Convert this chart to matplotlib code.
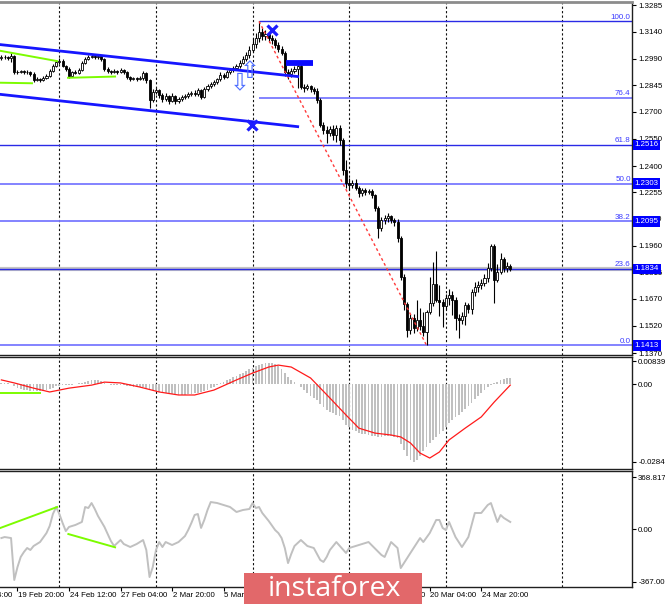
import matplotlib
matplotlib.use("Agg")
import matplotlib.pyplot as plt
from matplotlib.patches import Rectangle
import matplotlib.transforms as mtrans

plt.rcParams['font.family'] = ['Liberation Sans', 'DejaVu Sans']

# ---------------- data ----------------
OPEN = [1.2995, 1.3000, 1.3000, 1.2995, 1.3006, 1.2918, 1.2918, 1.2923, 1.2918, 1.2918,
        1.2907, 1.2874, 1.2879, 1.2874, 1.2885, 1.2896, 1.2923, 1.2951, 1.2973, 1.2978,
        1.2951, 1.2934, 1.2896, 1.2918, 1.2912, 1.2929, 1.2967, 1.2989, 1.3000, 1.3006,
        1.3000, 1.3006, 1.2989, 1.2934, 1.2923, 1.2918, 1.2923, 1.2918, 1.2929, 1.2918,
        1.2890, 1.2879, 1.2885, 1.2879, 1.2885, 1.2912, 1.2874, 1.2764, 1.2808, 1.2819,
        1.2791, 1.2769, 1.2786, 1.2758, 1.2786, 1.2758, 1.2769, 1.2780, 1.2786, 1.2797,
        1.2802, 1.2797, 1.2819, 1.2780, 1.2824, 1.2841, 1.2852, 1.2863, 1.2879, 1.2901,
        1.2890, 1.2918, 1.2929, 1.2940, 1.2951, 1.2967, 1.2989, 1.3011, 1.3039, 1.3072,
        1.3105, 1.3138, 1.3116, 1.3127, 1.3105, 1.3094, 1.3066, 1.3044, 1.3022, 1.2918,
        1.2907, 1.2923, 1.2934, 1.2951, 1.2835, 1.2830, 1.2841, 1.2824, 1.2813, 1.2764,
        1.2626, 1.2599, 1.2582, 1.2604, 1.2571, 1.2610, 1.2544, 1.2379, 1.2307, 1.2296,
        1.2307, 1.2280, 1.2252, 1.2269, 1.2258, 1.2263, 1.2241, 1.2170, 1.2060, 1.2104,
        1.2115, 1.2126, 1.2104, 1.2093, 1.2005, 1.1790, 1.1642, 1.1499, 1.1565, 1.1510,
        1.1554, 1.1521, 1.1488, 1.1598, 1.1647, 1.1752, 1.1664, 1.1653, 1.1631, 1.1675,
        1.1691, 1.1664, 1.1565, 1.1554, 1.1576, 1.1636, 1.1614, 1.1708, 1.1735, 1.1746,
        1.1757, 1.1785, 1.1840, 1.1961, 1.1774, 1.1818, 1.1889, 1.1840, 1.1851]
HIGH = [1.3011, 1.3011, 1.3006, 1.3022, 1.3011, 1.2929, 1.2929, 1.2929, 1.2929, 1.2923,
        1.2918, 1.2890, 1.2885, 1.2896, 1.2907, 1.2934, 1.2962, 1.2984, 1.2995, 1.2989,
        1.2956, 1.2945, 1.2923, 1.2929, 1.2940, 1.2978, 1.3000, 1.3011, 1.3017, 1.3017,
        1.3011, 1.3011, 1.2995, 1.2945, 1.2929, 1.2934, 1.2929, 1.2940, 1.2934, 1.2923,
        1.2896, 1.2890, 1.2890, 1.2896, 1.2923, 1.2918, 1.2879, 1.2824, 1.2830, 1.2824,
        1.2802, 1.2802, 1.2791, 1.2802, 1.2791, 1.2780, 1.2791, 1.2797, 1.2808, 1.2813,
        1.2819, 1.2830, 1.2824, 1.2835, 1.2852, 1.2863, 1.2874, 1.2885, 1.2918, 1.2912,
        1.2929, 1.2940, 1.2951, 1.2962, 1.2984, 1.3006, 1.3028, 1.3061, 1.3105, 1.3132,
        1.3198, 1.3160, 1.3149, 1.3138, 1.3121, 1.3105, 1.3083, 1.3061, 1.3033, 1.2934,
        1.2940, 1.2951, 1.2967, 1.2973, 1.2852, 1.2852, 1.2846, 1.2835, 1.2830, 1.2775,
        1.2643, 1.2621, 1.2621, 1.2626, 1.2626, 1.2626, 1.2555, 1.2434, 1.2335, 1.2324,
        1.2329, 1.2291, 1.2280, 1.2280, 1.2274, 1.2274, 1.2247, 1.2181, 1.2120, 1.2131,
        1.2142, 1.2131, 1.2115, 1.2109, 1.2016, 1.1807, 1.1653, 1.1587, 1.1587, 1.1664,
        1.1620, 1.1598, 1.1609, 1.1790, 1.1873, 1.1933, 1.1746, 1.1669, 1.1697, 1.1724,
        1.1713, 1.1680, 1.1587, 1.1598, 1.1653, 1.1647, 1.1724, 1.1763, 1.1768, 1.1779,
        1.1807, 1.1867, 1.1972, 1.1972, 1.1862, 1.1922, 1.1900, 1.1873, 1.1862]
LOW = [1.2984, 1.2989, 1.2984, 1.2973, 1.2907, 1.2907, 1.2912, 1.2907, 1.2907, 1.2896,
       1.2863, 1.2868, 1.2863, 1.2868, 1.2879, 1.2890, 1.2918, 1.2945, 1.2962, 1.2945,
       1.2923, 1.2885, 1.2890, 1.2907, 1.2907, 1.2923, 1.2962, 1.2984, 1.2995, 1.2989,
       1.2989, 1.2978, 1.2923, 1.2912, 1.2907, 1.2912, 1.2907, 1.2912, 1.2907, 1.2879,
       1.2868, 1.2874, 1.2868, 1.2874, 1.2874, 1.2857, 1.2720, 1.2753, 1.2797, 1.2775,
       1.2753, 1.2758, 1.2742, 1.2753, 1.2742, 1.2747, 1.2758, 1.2769, 1.2775, 1.2786,
       1.2786, 1.2786, 1.2769, 1.2775, 1.2813, 1.2830, 1.2841, 1.2852, 1.2868, 1.2879,
       1.2885, 1.2907, 1.2918, 1.2929, 1.2940, 1.2962, 1.2978, 1.2995, 1.3028, 1.3050,
       1.3083, 1.3094, 1.3094, 1.3083, 1.3072, 1.3050, 1.3028, 1.3011, 1.2896, 1.2879,
       1.2890, 1.2912, 1.2830, 1.2824, 1.2808, 1.2819, 1.2808, 1.2797, 1.2747, 1.2615,
       1.2577, 1.2527, 1.2566, 1.2544, 1.2533, 1.2516, 1.2351, 1.2280, 1.2269, 1.2280,
       1.2269, 1.2230, 1.2236, 1.2241, 1.2247, 1.2225, 1.2153, 1.2005, 1.2043, 1.2082,
       1.2093, 1.2087, 1.2071, 1.1983, 1.1774, 1.1609, 1.1460, 1.1477, 1.1482, 1.1493,
       1.1499, 1.1466, 1.1413, 1.1587, 1.1631, 1.1653, 1.1576, 1.1515, 1.1614, 1.1636,
       1.1581, 1.1499, 1.1455, 1.1532, 1.1526, 1.1592, 1.1587, 1.1686, 1.1708, 1.1724,
       1.1741, 1.1763, 1.1823, 1.1647, 1.1763, 1.1807, 1.1818, 1.1818, 1.1823]
CLOSE = [1.3000, 1.3000, 1.2995, 1.3006, 1.2918, 1.2918, 1.2923, 1.2918, 1.2918, 1.2907,
         1.2874, 1.2879, 1.2874, 1.2885, 1.2896, 1.2923, 1.2951, 1.2973, 1.2978, 1.2951,
         1.2934, 1.2896, 1.2918, 1.2912, 1.2929, 1.2967, 1.2989, 1.3000, 1.3006, 1.3000,
         1.3006, 1.2989, 1.2934, 1.2923, 1.2918, 1.2923, 1.2918, 1.2929, 1.2918, 1.2890,
         1.2879, 1.2885, 1.2879, 1.2885, 1.2912, 1.2874, 1.2764, 1.2808, 1.2819, 1.2791,
         1.2769, 1.2786, 1.2758, 1.2786, 1.2758, 1.2769, 1.2780, 1.2786, 1.2797, 1.2802,
         1.2797, 1.2819, 1.2780, 1.2824, 1.2841, 1.2852, 1.2863, 1.2879, 1.2901, 1.2890,
         1.2918, 1.2929, 1.2940, 1.2951, 1.2967, 1.2989, 1.3011, 1.3039, 1.3072, 1.3105,
         1.3138, 1.3116, 1.3127, 1.3105, 1.3094, 1.3066, 1.3044, 1.3022, 1.2918, 1.2907,
         1.2923, 1.2934, 1.2951, 1.2835, 1.2830, 1.2841, 1.2824, 1.2813, 1.2764, 1.2626,
         1.2599, 1.2582, 1.2604, 1.2571, 1.2610, 1.2544, 1.2379, 1.2307, 1.2296, 1.2307,
         1.2280, 1.2252, 1.2269, 1.2258, 1.2263, 1.2241, 1.2170, 1.2060, 1.2104, 1.2115,
         1.2126, 1.2104, 1.2093, 1.2005, 1.1790, 1.1642, 1.1499, 1.1565, 1.1510, 1.1554,
         1.1521, 1.1488, 1.1598, 1.1647, 1.1752, 1.1664, 1.1653, 1.1631, 1.1675, 1.1691,
         1.1664, 1.1565, 1.1554, 1.1576, 1.1636, 1.1614, 1.1708, 1.1735, 1.1746, 1.1757,
         1.1785, 1.1840, 1.1961, 1.1774, 1.1818, 1.1889, 1.1840, 1.1851, 1.1834]

MACD_HIST = [0.0005, 0.0004, 0.0002, 0.0000, -0.0008, -0.0013, -0.0017, -0.0020, -0.0022, -0.0024,
             -0.0026, -0.0027, -0.0026, -0.0024, -0.0021, -0.0017, -0.0013, -0.0009, -0.0006, -0.0004,
             -0.0003, -0.0004, -0.0003, -0.0001, 0.0002, 0.0005, 0.0008, 0.0011, 0.0013, 0.0014,
             0.0013, 0.0010, 0.0005, 0.0001, -0.0002, -0.0003, -0.0004, -0.0005, -0.0005, -0.0007,
             -0.0009, -0.0010, -0.0011, -0.0012, -0.0012, -0.0014, -0.0019, -0.0023, -0.0026, -0.0029,
             -0.0032, -0.0034, -0.0036, -0.0037, -0.0039, -0.0040, -0.0040, -0.0039, -0.0038, -0.0036,
             -0.0034, -0.0031, -0.0029, -0.0025, -0.0020, -0.0015, -0.0010, -0.0004, 0.0002, 0.0008,
             0.0014, 0.0019, 0.0024, 0.0030, 0.0035, 0.0041, 0.0047, 0.0053, 0.0059, 0.0065,
             0.0070, 0.0074, 0.0077, 0.0078, 0.0078, 0.0074, 0.0066, 0.0054, 0.0040, 0.0026,
             0.0014, 0.0006, 0.0001, -0.0012, -0.0022, -0.0032, -0.0042, -0.0050, -0.0060, -0.0072,
             -0.0083, -0.0093, -0.0101, -0.0107, -0.0112, -0.0118, -0.0133, -0.0148, -0.0158, -0.0166,
             -0.0172, -0.0178, -0.0181, -0.0184, -0.0186, -0.0188, -0.0190, -0.0193, -0.0192, -0.0191,
             -0.0190, -0.0190, -0.0192, -0.0198, -0.0218, -0.0240, -0.0264, -0.0278, -0.0284, -0.0276,
             -0.0262, -0.0246, -0.0231, -0.0216, -0.0203, -0.0192, -0.0182, -0.0170, -0.0156, -0.0143,
             -0.0132, -0.0122, -0.0112, -0.0103, -0.0092, -0.0080, -0.0068, -0.0055, -0.0043, -0.0032,
             -0.0022, -0.0012, -0.0003, 0.0003, 0.0008, 0.0014, 0.0018, 0.0021, 0.0022]

SIGNAL_BARS = [0, 4, 10, 15, 21, 28, 32, 37, 43, 49, 55, 60, 66, 73, 78, 83, 86, 90, 96,
               102, 107, 111, 116, 121, 124, 127, 130, 133, 136, 139, 144, 149, 153, 158]
SIGNAL_VALS = [0.0015, 0.0004, -0.0015, -0.0029, -0.0015, -0.0004, 0.0007, 0.0004, -0.0011,
               -0.0029, -0.0040, -0.0040, -0.0022, 0.0015, 0.0040, 0.0062, 0.0069, 0.0062, 0.0022,
               -0.0051, -0.0113, -0.0161, -0.0179, -0.0186, -0.0193, -0.0215, -0.0252, -0.0270,
               -0.0248, -0.0204, -0.0161, -0.0120, -0.0066, -0.0004]

CCI_BARS = [0, 1, 3, 4, 5, 6, 7, 8, 9, 10,
            12, 14, 15, 16, 17, 18, 19, 20, 21, 23,
            25, 26, 27, 28, 29, 30, 32, 34, 35, 36,
            37, 38, 40, 42, 44, 45, 46, 47, 48, 49,
            50, 51, 53, 55, 57, 58, 59, 60, 61, 62,
            63, 64, 65, 67, 69, 71, 73, 75, 77, 78,
            79, 80, 81, 83, 85, 86, 87, 88, 89, 90,
            91, 93, 95, 97, 99, 100, 101, 102, 104, 107,
            108, 111, 114, 118, 119, 121, 123, 124, 127, 130,
            131, 133, 135, 136, 137, 138, 139, 141, 143, 145,
            147, 149, 151, 152, 154, 155, 156, 158]
CCI_VALS = [-60, -53, -60, -355, -264, -193, -158, -130, -144, -116,
            -88, -25, 25, 109, 158, 109, 46, -11, 18, 32,
            53, 158, 151, 186, 144, 95, 18, -81, -116, -95,
            -74, -102, -123, -102, -74, -144, -334, -264, -144, -88,
            -123, -88, -109, -88, -46, -4, 46, 102, 109, 11,
            67, 137, 193, 186, 172, 158, 123, 137, 144, 186,
            151, 158, 116, 60, -4, -25, -60, -130, -236, -172,
            -116, -74, -116, -130, -214, -228, -193, -144, -88, -165,
            -130, -109, -88, -179, -193, -88, -130, -271, -165, -60,
            -88, -25, 67, 67, 11, -4, 53, -53, -123, -53,
            116, 116, 172, 186, 53, 102, 81, 53]

PRICE_TICKS = [1.3285, 1.3140, 1.2990, 1.2845, 1.2700, 1.2550, 1.2400, 1.2255,
               1.2110, 1.1960, 1.1815, 1.1670, 1.1520, 1.1370]
HLINE_PRICES = [1.2516, 1.2303, 1.2095, 1.1834, 1.1413]
HLINE_COLORS = ['#2a2ae6', '#7a7aff', '#7a7aff', '#2a2ae6', '#7a7aff']
FIB_HIGH, FIB_LOW = 1.3197, 1.1413
FIB_START_BAR, FIB_END_BAR = 80, 132
FIB_RATIOS = [1.0, 0.764, 0.618, 0.5, 0.382, 0.236, 0.0]
FIB_LABELS = ['100.0', '76.4', '61.8', '50.0', '38.2', '23.6', '0.0']

CHANNEL_BARS = [-0.43, 92]
CHANNEL_UPPER = [1.3069, 1.2893]
CHANNEL_LOWER = [1.2795, 1.2617]
GREEN_MAIN = [([-0.43, 17.3], [1.3035, 1.2978]),
              ([-0.43, 9.5], [1.2859, 1.2856]),
              ([20.7, 35.3], [1.2886, 1.2893])]
GREEN_MACD = ([-0.43, 12], [-0.0033, -0.0033])
GREEN_CCI = [([-0.43, 17.3], [10, 158]), ([20.8, 35.3], [-32, -125])]
RESIST_BARS, RESIST_PRICE = [88.4, 96.8], 1.2967
X_MARKS = [(84.0, 1.3151), (77.8, 1.2626)]
UP_ARROW = (77.2, 1.2923)
DOWN_ARROW = (73.9, 1.2860)

GRID_BARS = [18, 48, 78, 108, 138, 174]
DATE_BARS = [-11, 5, 21, 37, 53, 69, 85, 101, 117, 133, 149]
DATE_LABELS = ['17 Feb 04:00', '19 Feb 20:00', '24 Feb 12:00', '27 Feb 04:00', '2 Mar 20:00',
               '5 Mar 12:00', '10 Mar 04:00', '12 Mar 20:00', '17 Mar 12:00', '20 Mar 04:00',
               '24 Mar 20:00']
MACD_TICKS = [0.00839, 0.0, -0.02843]
MACD_TICKLABELS = ['0.00839', '0.00', '-0.02843']
CCI_TICKS = [368.8171, 0.0, -367.0034]
CCI_TICKLABELS = ['368.8171', '0.00', '-367.0034']

# ---------------- layout ----------------
W, H = 665, 604
fig = plt.figure(figsize=(W / 100, H / 100), dpi=100)
fig.patch.set_facecolor('white')


def add_ax(top, bottom):
    return fig.add_axes([0, 1 - bottom / H, 632 / W, (bottom - top) / H])


ax1 = add_ax(2, 355)
ax2 = add_ax(357, 469)
ax3 = add_ax(471, 587)
XLIM = (-0.43, 195.8)
FS = 5.7

for ax in (ax1, ax2, ax3):
    ax.set_xlim(*XLIM)
    ax.set_facecolor('white')
    ax.spines['left'].set_visible(False)
    for s in ('right', 'bottom', 'top'):
        ax.spines[s].set_color('#202020')
        ax.spines[s].set_linewidth(1.0)
    ax.yaxis.tick_right()
    ax.tick_params(axis='y', which='both', direction='out', length=3, width=0.8,
                   pad=1.5, labelsize=FS, colors='black', right=True, left=False)
    ax.tick_params(axis='x', which='both', bottom=False, labelbottom=False, top=False)
    for g in GRID_BARS:
        ax.axvline(g, color='#101010', lw=0.8, ls=(0, (2, 2)), zorder=1)

ax1.spines['top'].set_color('#8c8c8c')
ax1.spines['top'].set_linewidth(2.0)

# ---------------- main panel ----------------
ax1.set_ylim(1.13595, 1.33035)
ax1.set_yticks(PRICE_TICKS)
ax1.set_yticklabels(['%.4f' % t for t in PRICE_TICKS])

# bid line (grey) and horizontal levels
ax1.axhline(CLOSE[-1], color='#c4c4c4', lw=3, zorder=1.5)
for p, c in zip(HLINE_PRICES, HLINE_COLORS):
    ax1.axhline(p, color=c, lw=1.3 if c == '#7a7aff' else 1.0, zorder=2)

fib_prices = [FIB_LOW + r * (FIB_HIGH - FIB_LOW) for r in FIB_RATIOS]
ax1.hlines(fib_prices[0], FIB_START_BAR, XLIM[1], color='#2a2ae6', lw=1.0, zorder=2)
ax1.hlines(fib_prices[1], FIB_START_BAR, XLIM[1], color='#7a7aff', lw=1.3, zorder=2)
for p, lab in zip(fib_prices, FIB_LABELS):
    ax1.text(XLIM[1] - 0.4, p + 0.0004, lab, ha='right', va='bottom', fontsize=5.8,
             color='#3a3aff', zorder=6)
ax1.plot([FIB_START_BAR, FIB_END_BAR], [FIB_HIGH, FIB_LOW], color='#ff3a3a', lw=1.0,
         ls=(0, (2, 2)), zorder=5)

# channel & annotations
ax1.plot(CHANNEL_BARS, CHANNEL_UPPER, color='#1616ff', lw=2.0, zorder=5)
ax1.plot(CHANNEL_BARS, CHANNEL_LOWER, color='#1616ff', lw=2.0, zorder=5)
for xs, ys in GREEN_MAIN:
    ax1.plot(xs, ys, color='#7cfc00', lw=1.4, zorder=5)
ax1.plot(RESIST_BARS, [RESIST_PRICE, RESIST_PRICE], color='#0a0aff', lw=4.2,
         solid_capstyle='butt', zorder=5)
for bx, by in X_MARKS:
    ax1.plot(bx, by, marker='x', ms=6.5, mew=2.3, color='#1e1eff', zorder=7)
ax1.text(UP_ARROW[0], UP_ARROW[1], '\u21e7', ha='center', va='center', fontsize=17,
         color='#4f6fff', family='DejaVu Sans', zorder=7)
ax1.text(DOWN_ARROW[0], DOWN_ARROW[1], '\u21e9', ha='center', va='center', fontsize=17,
         color='#4f6fff', family='DejaVu Sans', zorder=7)

# candles
for i, (o, h, l, c) in enumerate(zip(OPEN, HIGH, LOW, CLOSE)):
    ax1.vlines(i, l, h, color='black', lw=0.8, zorder=3)
    bull = c > o
    lo = min(o, c)
    ht = abs(c - o)
    ax1.add_patch(Rectangle((i - 0.32, lo), 0.64, ht,
                            facecolor='white' if bull else 'black',
                            edgecolor='black', lw=0.6, zorder=4))

# price boxes
for p in HLINE_PRICES:
    ax1.text(1.004, p, '%.4f' % p, transform=ax1.get_yaxis_transform(), ha='left',
             va='center', fontsize=FS, color='white', clip_on=False, zorder=10,
             bbox=dict(boxstyle='square,pad=0.22', fc='#0000ff', ec='none'))

# ---------------- MACD panel ----------------
ax2.set_ylim(-0.0310, 0.00986)
ax2.bar(range(len(MACD_HIST)), MACD_HIST, width=0.55, color='#c0c0c0', zorder=2)
ax2.plot(SIGNAL_BARS, SIGNAL_VALS, color='#ff1a1a', lw=0.9, zorder=3)
ax2.plot(GREEN_MACD[0], GREEN_MACD[1], color='#7cfc00', lw=1.4, zorder=3)
ax2.set_yticks(MACD_TICKS)
ax2.set_yticklabels(MACD_TICKLABELS)

# ---------------- CCI panel ----------------
ax3.set_ylim(-404, 411)
ax3.plot(CCI_BARS, CCI_VALS, color='#c0c0c0', lw=1.4, zorder=3)
for xs, ys in GREEN_CCI:
    ax3.plot(xs, ys, color='#7cfc00', lw=1.4, zorder=4)
ax3.set_yticks(CCI_TICKS)
ax3.set_yticklabels(CCI_TICKLABELS)

# date axis
ax3.set_xticks([b for b in DATE_BARS if XLIM[0] <= b <= XLIM[1]])
ax3.tick_params(axis='x', bottom=True, length=3, width=0.8, direction='out',
                labelbottom=False, color='black')
blend = mtrans.blended_transform_factory(ax3.transData, ax3.transAxes)
for b, lab in zip(DATE_BARS, DATE_LABELS):
    ax3.text(b + 0.15, -0.072, lab, transform=blend, ha='left', va='center',
             fontsize=FS, color='black', clip_on=False)

# ---------------- watermark ----------------
fig.patches.append(Rectangle((244 / W, 1 - 604 / H), (422 - 244) / W, (604 - 573) / H,
                             transform=fig.transFigure, facecolor='#e2686a',
                             edgecolor='none', zorder=20))
fig.text(334 / W, 1 - 589 / H, 'instaforex', ha='center', va='center', fontsize=20.5,
         color='white', family=['Open Sans', 'DejaVu Sans'], zorder=21)

fig.savefig('out.png', dpi=100, facecolor='white')
